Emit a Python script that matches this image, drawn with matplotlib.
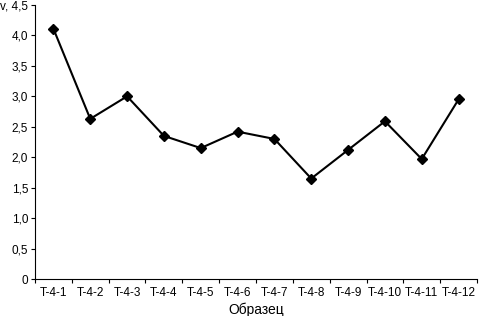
import matplotlib
matplotlib.use("Agg")
from matplotlib import pyplot as plt
from matplotlib.ticker import FixedLocator, NullLocator

plt.rcParams['font.family'] = ['Liberation Sans', 'DejaVu Sans']

samples = ["T-4-1", "T-4-2", "T-4-3", "T-4-4", "T-4-5", "T-4-6",
           "T-4-7", "T-4-8", "T-4-9", "T-4-10", "T-4-11", "T-4-12"]
v = [4.11, 2.63, 3.00, 2.35, 2.15, 2.42, 2.30, 1.65, 2.12, 2.59, 1.97, 2.95]
y_ticks = [0, 0.5, 1.0, 1.5, 2.0, 2.5, 3.0, 3.5, 4.0, 4.5]
y_labels = ["0", "0,5", "1,0", "1,5", "2,0", "2,5", "3,0", "3,5", "4,0", "v, 4,5"]

fig = plt.figure(figsize=(4.79, 3.16), dpi=100)
ax = fig.add_axes([35 / 479, 37 / 316, 442 / 479, 274 / 316])

x = list(range(len(samples)))
ax.plot(x, v, color='black', lw=1.5, marker='D', ms=5, mfc='black', mec='black')

ax.set_xlim(-0.5, len(samples) - 0.5)
ax.set_ylim(0, 4.5)

ax.set_xticks(x)
ax.set_xticklabels(samples, fontsize=8.5)
ax.xaxis.set_minor_locator(FixedLocator([i + 0.5 for i in range(-1, len(samples))]))
ax.tick_params(axis='x', which='major', length=0, pad=6)
ax.tick_params(axis='x', which='minor', length=3, width=0.8)

ax.set_yticks(y_ticks)
ax.set_yticklabels(y_labels, fontsize=8.5)
ax.tick_params(axis='y', length=3, width=0.8, pad=2)

ax.spines['top'].set_visible(False)
ax.spines['right'].set_visible(False)
ax.spines['left'].set_linewidth(0.8)
ax.spines['bottom'].set_linewidth(0.8)

ax.set_xlabel("Образец", fontsize=10, labelpad=2)

fig.savefig("out.png", dpi=100)
